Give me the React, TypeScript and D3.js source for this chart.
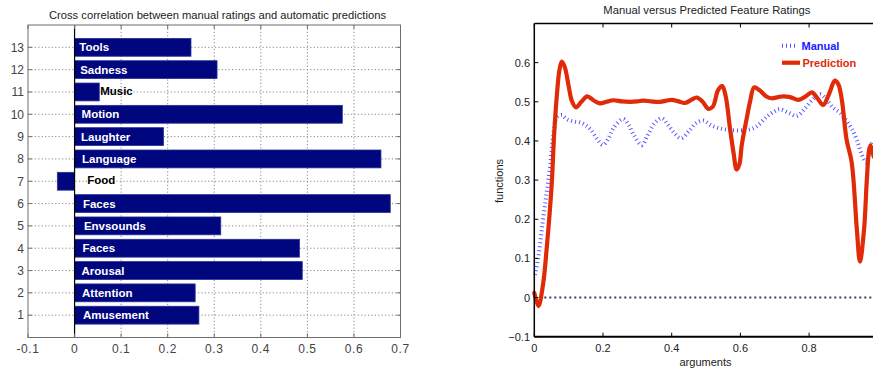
import React from 'react';
import * as d3 from 'd3';

const W = 873;
const H = 371;

// ---- Left chart: cross correlation (horizontal bars) ----
const barPositions = [1, 2, 3, 4, 5, 6, 7, 8, 9, 10, 11, 12, 13];
const barLabels = ['Amusement', 'Attention', 'Arousal', 'Faces', 'Envsounds', 'Faces', 'Food', 'Language', 'Laughter', 'Motion', 'Music', 'Sadness', 'Tools'];
const barValues = [0.267, 0.259, 0.489, 0.483, 0.314, 0.678, -0.037, 0.658, 0.191, 0.575, 0.053, 0.306, 0.25];
const labelAt = [0.018, 0.016, 0.015, 0.017, 0.02, 0.018, 0.027, 0.016, 0.014, 0.015, 0.055, 0.012, 0.01];
const leftXTicks = [-0.1, 0, 0.1, 0.2, 0.3, 0.4, 0.5, 0.6, 0.7];
const leftXTickLabels = ['-0.1', '0', '0.1', '0.2', '0.3', '0.4', '0.5', '0.6', '0.7'];
const leftYTicks = [1, 2, 3, 4, 5, 6, 7, 8, 9, 10, 11, 12, 13];

// ---- Right chart: manual vs predicted ----
const manualX = [0.002, 0.012, 0.024, 0.036, 0.046, 0.055, 0.065, 0.08, 0.094, 0.113, 0.133, 0.15, 0.165, 0.183, 0.2, 0.215, 0.23, 0.259, 0.275, 0.29, 0.313, 0.33, 0.35, 0.371, 0.39, 0.41, 0.428, 0.45, 0.47, 0.492, 0.515, 0.541, 0.57, 0.599, 0.625, 0.647, 0.677, 0.7, 0.715, 0.74, 0.764, 0.79, 0.812, 0.832, 0.851, 0.87, 0.89, 0.909, 0.925, 0.94, 0.953, 0.966, 0.975, 0.985];
const manualY = [0.058, 0.105, 0.19, 0.268, 0.336, 0.413, 0.46, 0.466, 0.456, 0.45, 0.447, 0.44, 0.428, 0.405, 0.39, 0.405, 0.432, 0.456, 0.44, 0.415, 0.389, 0.415, 0.445, 0.458, 0.44, 0.418, 0.407, 0.425, 0.445, 0.452, 0.44, 0.432, 0.428, 0.427, 0.429, 0.437, 0.462, 0.476, 0.481, 0.472, 0.464, 0.485, 0.507, 0.519, 0.505, 0.485, 0.472, 0.451, 0.43, 0.4, 0.366, 0.345, 0.37, 0.4];

const predictionX = [0, 0.012, 0.026, 0.036, 0.05, 0.058, 0.066, 0.073, 0.08, 0.089, 0.1, 0.109, 0.121, 0.137, 0.154, 0.172, 0.191, 0.21, 0.23, 0.255, 0.279, 0.3, 0.317, 0.34, 0.366, 0.385, 0.4, 0.42, 0.439, 0.457, 0.473, 0.49, 0.507, 0.52, 0.535, 0.547, 0.557, 0.57, 0.58, 0.589, 0.597, 0.604, 0.618, 0.628, 0.64, 0.655, 0.677, 0.691, 0.71, 0.725, 0.745, 0.769, 0.79, 0.808, 0.825, 0.841, 0.858, 0.875, 0.885, 0.895, 0.909, 0.924, 0.939, 0.948, 0.96, 0.968, 0.975, 0.979, 0.988];
const predictionY = [0.012, -0.022, 0.037, 0.125, 0.28, 0.42, 0.52, 0.58, 0.603, 0.588, 0.54, 0.503, 0.486, 0.5, 0.514, 0.504, 0.496, 0.5, 0.504, 0.501, 0.5, 0.501, 0.503, 0.501, 0.5, 0.503, 0.505, 0.501, 0.497, 0.505, 0.511, 0.5, 0.482, 0.488, 0.53, 0.54, 0.515, 0.43, 0.37, 0.327, 0.34, 0.39, 0.456, 0.5, 0.537, 0.53, 0.513, 0.509, 0.512, 0.514, 0.512, 0.505, 0.514, 0.524, 0.508, 0.492, 0.52, 0.554, 0.545, 0.507, 0.404, 0.345, 0.174, 0.092, 0.174, 0.3, 0.379, 0.389, 0.36];

const rightXTicks = [0, 0.2, 0.4, 0.6, 0.8];
const rightXTickLabels = ['0', '0.2', '0.4', '0.6', '0.8'];
const rightYTicks = [-0.1, 0, 0.1, 0.2, 0.3, 0.4, 0.5, 0.6];
const rightYTickLabels = ['\u22120.1', '0', '0.1', '0.2', '0.3', '0.4', '0.5', '0.6'];
const legendNames = ['Manual', 'Prediction'];

const FONT = 'Liberation Sans, Arial, Helvetica, sans-serif';

export default function App() {
  // left scales
  const xL = d3.scaleLinear().domain([-0.1, 0.7]).range([28, 400.5]);
  const yL = d3.scaleLinear().domain([0, 14]).range([337.5, 25]);
  const barH = yL(0) - yL(0.8);

  // right scales
  const xR = d3.scaleLinear().domain([0, 1]).range([534.3, 877.8]);
  const yR = d3.scaleLinear().domain([-0.1, 0.7]).range([336.7, 23.5]);

  const line = d3
    .line<[number, number]>()
    .x((d) => xR(d[0]))
    .y((d) => yR(d[1]))
    .curve(d3.curveCatmullRom.alpha(0.5));

  const manualPath = line(manualX.map((x, i) => [x, manualY[i]] as [number, number])) || '';
  const predPath = line(predictionX.map((x, i) => [x, predictionY[i]] as [number, number])) || '';

  const lx0 = xL(-0.1), lx1 = xL(0.7), ly0 = yL(0), ly1 = yL(14);
  const rx0 = xR(0), rx1 = xR(1), ry0 = yR(-0.1), ry1 = yR(0.7);

  return (
    <svg
      width={W}
      height={H}
      style={{ position: 'absolute', left: 0, top: 0, display: 'block', background: '#fff' }}
      fontFamily={FONT}
    >
      <rect x={0} y={0} width={W} height={H} fill="#fff" />
      {/* ================= LEFT CHART ================= */}
      <text x={49} y={19} fontSize={11} fill="#222" textLength={337} lengthAdjust="spacingAndGlyphs">
        Cross correlation between manual ratings and automatic predictions
      </text>
      {/* grid */}
      {leftXTicks.slice(1, -1).map((t) => (
        <line key={'gx' + t} x1={xL(t)} x2={xL(t)} y1={ly1} y2={ly0} stroke="#888" strokeWidth={1} strokeDasharray="1.2 2.2" />
      ))}
      {leftYTicks.map((t) => (
        <line key={'gy' + t} x1={lx0} x2={lx1} y1={yL(t)} y2={yL(t)} stroke="#888" strokeWidth={1} strokeDasharray="1.2 2.2" />
      ))}
      {/* bars */}
      {barValues.map((v, i) => {
        const x0 = xL(Math.min(0, v));
        const x1 = xL(Math.max(0, v));
        return (
          <rect
            key={'b' + i}
            x={x0}
            y={yL(barPositions[i]) - barH / 2}
            width={x1 - x0}
            height={barH}
            fill="#00067e"
            stroke="#2a2f96"
            strokeWidth={0.8}
          />
        );
      })}
      {/* zero baseline */}
      <line x1={xL(0)} x2={xL(0)} y1={ly1} y2={ly0} stroke="#000" strokeWidth={1.2} />
      {/* bar labels */}
      {barLabels.map((lab, i) => {
        const outside = barValues[i] < 0.1;
        return (
          <text
            key={'l' + i}
            x={xL(labelAt[i])}
            y={yL(barPositions[i]) + (outside ? -1.5 : 0)}
            dy="0.36em"
            fontSize={11.5}
            fontWeight="bold"
            fill={outside ? '#000' : '#fff'}
          >
            {lab}
          </text>
        );
      })}
      {/* box */}
      <rect x={lx0} y={ly1} width={lx1 - lx0} height={ly0 - ly1} fill="none" stroke="#6e6e6e" strokeWidth={1} />
      {/* ticks */}
      {leftXTicks.map((t) => (
        <g key={'tx' + t}>
          <line x1={xL(t)} x2={xL(t)} y1={ly0} y2={ly0 - 4} stroke="#6e6e6e" />
          <line x1={xL(t)} x2={xL(t)} y1={ly1} y2={ly1 + 4} stroke="#6e6e6e" />
        </g>
      ))}
      {leftYTicks.map((t) => (
        <g key={'ty' + t}>
          <line x1={lx0} x2={lx0 + 4} y1={yL(t)} y2={yL(t)} stroke="#6e6e6e" />
          <line x1={lx1} x2={lx1 - 4} y1={yL(t)} y2={yL(t)} stroke="#6e6e6e" />
        </g>
      ))}
      {leftXTicks.map((t, i) => (
        <text key={'txl' + t} x={xL(t)} y={352.5} textAnchor="middle" fontSize={12} fill="#444" letterSpacing={0.6}>
          {leftXTickLabels[i]}
        </text>
      ))}
      {leftYTicks.map((t) => (
        <text key={'tyl' + t} x={24} y={yL(t)} dy="0.36em" textAnchor="end" fontSize={12} fill="#444">
          {t}
        </text>
      ))}

      {/* ================= RIGHT CHART ================= */}
      <text x={603.3} y={14} fontSize={11} fill="#222" textLength={207} lengthAdjust="spacingAndGlyphs">
        Manual versus Predicted Feature Ratings
      </text>
      {/* zero line */}
      <line x1={rx0} x2={rx1} y1={yR(0)} y2={yR(0)} stroke="#3c3868" strokeWidth={2} strokeDasharray="2 3" />
      {/* curves */}
      <path d={manualPath} fill="none" stroke="#3a3aff" strokeOpacity={0.85} strokeWidth={4} strokeDasharray="1 3" />
      <path d={predPath} fill="none" stroke="#e02a08" strokeWidth={4.2} strokeLinejoin="round" strokeLinecap="round" />
      {/* axes */}
      <line x1={rx0} x2={rx0} y1={ry1} y2={ry0} stroke="#000" strokeWidth={1.5} />
      <line x1={rx0} x2={rx1} y1={ry0} y2={ry0} stroke="#000" strokeWidth={2} />
      <line x1={rx0} x2={rx1} y1={ry1} y2={ry1} stroke="#000" strokeWidth={1.5} />
      {rightXTicks.map((t) => (
        <g key={'rtx' + t}>
          <line x1={xR(t)} x2={xR(t)} y1={ry0} y2={ry0 - 4} stroke="#000" strokeWidth={1} />
          <line x1={xR(t)} x2={xR(t)} y1={ry1} y2={ry1 + 4} stroke="#000" strokeWidth={1} />
        </g>
      ))}
      {rightYTicks.map((t) => (
        <line key={'rty' + t} x1={rx0} x2={rx0 + 4} y1={yR(t)} y2={yR(t)} stroke="#000" strokeWidth={1} />
      ))}
      {rightXTicks.map((t, i) => (
        <text key={'rtxl' + t} x={xR(t)} y={352} textAnchor="middle" fontSize={11} fill="#222">
          {rightXTickLabels[i]}
        </text>
      ))}
      {rightYTicks.map((t, i) => (
        <text key={'rtyl' + t} x={530} y={yR(t)} dy="0.36em" textAnchor="end" fontSize={11} fill="#222">
          {rightYTickLabels[i]}
        </text>
      ))}
      <text x={705.5} y={365.5} textAnchor="middle" fontSize={11} fill="#222">
        arguments
      </text>
      <text transform="translate(503,181) rotate(-90)" textAnchor="middle" fontSize={11} fill="#222">
        functions
      </text>
      {/* legend */}
      <line x1={782} x2={797} y1={45.7} y2={45.7} stroke="#3a3aff" strokeOpacity={0.85} strokeWidth={4} strokeDasharray="1 3" />
      <text x={801.5} y={45.7} dy="0.36em" fontSize={11} fontWeight="bold" fill="#1a1aff">
        {legendNames[0]}
      </text>
      <line x1={782} x2={800} y1={62.7} y2={62.7} stroke="#e02a08" strokeWidth={4.2} />
      <text x={802.5} y={62.7} dy="0.36em" fontSize={11} fontWeight="bold" fill="#e02a08">
        {legendNames[1]}
      </text>
    </svg>
  );
}
